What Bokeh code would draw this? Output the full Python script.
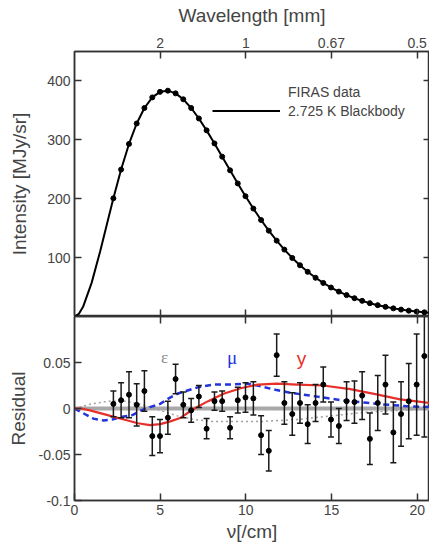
from bokeh.plotting import figure
from bokeh.models import (Range1d, LinearAxis, FixedTicker, ColumnDataSource,
                          Legend, LegendItem, Label, Span)
from bokeh.layouts import column
from bokeh.embed import file_html
from bokeh.resources import INLINE

# ---------------- data ----------------
freq = [2.27, 2.72, 3.18, 3.63, 4.08, 4.54, 4.99, 5.45, 5.90, 6.35, 6.81, 7.26,
        7.71, 8.17, 8.62, 9.08, 9.53, 9.98, 10.44, 10.89, 11.34, 11.80, 12.25,
        12.71, 13.16, 13.61, 14.07, 14.52, 14.97, 15.43, 15.88, 16.34, 16.79,
        17.24, 17.70, 18.15, 18.61, 19.06, 19.51, 19.97, 20.42, 20.87, 21.33]
intensity = [200.72, 249.51, 293.02, 327.77, 354.08, 372.08, 381.49, 383.48,
             378.90, 368.83, 354.06, 336.28, 316.08, 293.92, 271.43, 248.24,
             225.94, 204.33, 183.26, 163.83, 145.75, 128.84, 113.57, 99.45,
             87.04, 75.88, 65.77, 57.01, 49.22, 42.27, 36.35, 31.06, 26.58,
             22.64, 19.26, 16.39, 13.81, 11.72, 9.92, 8.36, 7.09, 5.80, 4.52]
residual = [0.005, 0.009, 0.015, 0.004, 0.019, -0.030, -0.030, -0.010, 0.032,
            0.004, -0.002, 0.013, -0.022, 0.008, 0.008, -0.021, 0.009, 0.012,
            0.011, -0.029, -0.046, 0.058, 0.006, -0.006, 0.006, -0.017, 0.006,
            0.026, -0.012, -0.019, 0.008, 0.007, 0.014, -0.033, 0.006, 0.026,
            -0.026, -0.006, 0.008, 0.026, 0.057, -0.116, -0.432]
uncert = [0.014, 0.019, 0.025, 0.023, 0.022, 0.021, 0.018, 0.018, 0.016, 0.014,
          0.013, 0.012, 0.011, 0.010, 0.011, 0.012, 0.014, 0.016, 0.018, 0.021,
          0.022, 0.023, 0.023, 0.023, 0.022, 0.021, 0.020, 0.019, 0.019, 0.019,
          0.021, 0.023, 0.026, 0.028, 0.030, 0.032, 0.033, 0.035, 0.041, 0.055,
          0.088, 0.155, 0.282]

# blackbody curve: low-frequency part + through the data frequencies
bb_nu = [0.0, 0.25, 0.5, 1.0, 1.5, 2.0] + freq
bb_I = [0.0, 4.4, 16.4, 57.1, 110.9, 169.4] + intensity

# distortion shapes in the residual panel
eps_nu = [0, 1, 2, 3, 4, 5, 6, 7, 8, 9, 10, 11, 12, 13, 14, 15, 16, 17, 18, 19, 20, 21]
eps_res = [0.0, 0.005, 0.008, 0.008, 0.004, -0.002, -0.008, -0.012, -0.014, -0.014,
           -0.014, -0.014, -0.013, -0.012, -0.010, -0.008, -0.006, -0.004, -0.003,
           -0.002, -0.001, 0.0]
mu_nu = [0, 0.5, 1.1, 1.7, 2.2, 2.8, 3.4, 3.9, 4.4, 5.0, 5.5, 6.0, 6.5, 7.2, 8.1,
         9.1, 10.1, 10.9, 11.8, 12.6, 13.4, 14.5, 15.7, 16.9, 18.0, 19.4, 20.7]
mu_res = [0.0, -0.005, -0.011, -0.013, -0.012, -0.009, -0.007, -0.002, 0.0015,
          0.005, 0.011, 0.016, 0.019, 0.023, 0.026, 0.026, 0.027, 0.024, 0.020,
          0.017, 0.015, 0.012, 0.0087, 0.0065, 0.0045, 0.0025, 0.0015]
y_nu = [0, 0.4, 0.9, 2.1, 3.1, 3.7, 4.4, 5.0, 5.6, 6.2, 7.0, 7.8, 8.7, 9.7, 10.7,
        11.8, 13.0, 14.5, 16.1, 17.7, 19.0, 20.7]
y_res = [0.0, 0.0, -0.002, -0.008, -0.013, -0.016, -0.018, -0.017, -0.014, -0.010,
         0.0, 0.008, 0.016, 0.022, 0.026, 0.027, 0.026, 0.025, 0.021, 0.015, 0.010,
         0.006]

nu_ticks = [0, 5, 10, 15, 20]
wl_ticks = {5: "2", 10: "1", 15: "0.67", 20: "0.5"}
I_ticks = [100, 200, 300, 400]
res_ticks = {-0.1: "-0.1", -0.05: "-0.05", 0: "0", 0.05: "0.05"}

# ---------------- styling ----------------
FONT = "Liberation Sans"
AX = "#333333"
TXT = "#444444"
TICK_FS = "14px"
LAB_FS = "19px"


def style_axis(ax, labels=True, tick_in=7):
    ax.axis_line_color = AX
    ax.axis_line_width = 1.5
    ax.major_tick_line_color = AX
    ax.major_tick_line_width = 1.5
    ax.major_tick_in = tick_in
    ax.major_tick_out = 0
    ax.minor_tick_line_color = None
    ax.major_label_text_font = FONT
    ax.axis_label_text_font = FONT
    ax.axis_label_text_color = TXT
    ax.axis_label_text_font_size = LAB_FS
    ax.axis_label_text_font_style = "normal"
    if labels:
        ax.major_label_text_color = TXT
        ax.major_label_text_font_size = TICK_FS
        ax.major_label_standoff = 4
    else:
        ax.major_label_text_color = None
        ax.major_label_text_font_size = "0px"
        ax.major_label_standoff = 0
    return ax


x_rng = Range1d(0, 20.72)

# ---------------- top panel ----------------
p1 = figure(width=429, height=316, x_range=x_rng, y_range=Range1d(0, 450),
            output_backend="svg", toolbar_location=None,
            x_axis_location=None, y_axis_location=None,
            min_border_left=74, min_border_right=0, min_border_top=51,
            min_border_bottom=0)
p1.grid.visible = False
p1.outline_line_color = AX
p1.outline_line_width = 1.5

ax = LinearAxis(ticker=FixedTicker(ticks=I_ticks), axis_label="Intensity [MJy/sr]",
                axis_label_standoff=14)
style_axis(ax)
p1.add_layout(ax, "left")

ax = LinearAxis(ticker=FixedTicker(ticks=I_ticks))
style_axis(ax, labels=False, tick_in=6)
p1.add_layout(ax, "right")

ax = LinearAxis(ticker=FixedTicker(ticks=list(wl_ticks.keys())),
                major_label_overrides=wl_ticks, axis_label="Wavelength [mm]",
                axis_label_standoff=9)
style_axis(ax)
p1.add_layout(ax, "above")

ax = LinearAxis(ticker=FixedTicker(ticks=nu_ticks[1:]))
style_axis(ax, labels=False)
p1.add_layout(ax, "below")

bb = p1.line(bb_nu, bb_I, line_color="black", line_width=2)
p1.scatter(freq, intensity, size=5, marker="circle", color="black")

legend = Legend(items=[LegendItem(label="FIRAS data", renderers=[]),
                       LegendItem(label="2.725 K Blackbody", renderers=[bb])],
                location=(138, 196), glyph_width=68, glyph_height=19,
                label_height=19, label_standoff=8, spacing=0, padding=0,
                margin=0, border_line_alpha=0, background_fill_alpha=0,
                label_text_font=FONT, label_text_font_size="14px",
                label_text_color=TXT)
p1.add_layout(legend)

# ---------------- bottom panel ----------------
p2 = figure(width=429, height=230, x_range=x_rng, y_range=Range1d(-0.1, 0.1),
            output_backend="svg", toolbar_location=None,
            x_axis_location=None, y_axis_location=None,
            min_border_left=74, min_border_right=0, min_border_top=0,
            min_border_bottom=46)
p2.grid.visible = False
p2.outline_line_color = AX
p2.outline_line_width = 1.5

ax = LinearAxis(ticker=FixedTicker(ticks=list(res_ticks.keys())),
                major_label_overrides=res_ticks, axis_label="Residual",
                axis_label_standoff=7)
style_axis(ax)
p2.add_layout(ax, "left")

ax = LinearAxis(ticker=FixedTicker(ticks=nu_ticks), axis_label="\u03bd[/cm]",
                axis_label_standoff=3)
style_axis(ax)
p2.add_layout(ax, "below")

ax = LinearAxis(ticker=FixedTicker(ticks=nu_ticks[1:]))
style_axis(ax, labels=False)
p2.add_layout(ax, "above")

p2.add_layout(Span(location=0, dimension="width", line_color="#a8a8a8",
                   line_width=4, level="underlay"))

p2.line(eps_nu, eps_res, line_color="#a0a0a0", line_width=1.5, line_dash="2 3")
p2.line(mu_nu, mu_res, line_color="#2233dd", line_width=2.5, line_dash="6 4")
p2.line(y_nu, y_res, line_color="#e8302a", line_width=2.2)

lo = [r - e for r, e in zip(residual, uncert)]
hi = [r + e for r, e in zip(residual, uncert)]
src = ColumnDataSource(dict(x=freq, y=residual, lo=lo, hi=hi))
p2.segment(x0="x", y0="lo", x1="x", y1="hi", source=src, line_color="#1a1a1a",
           line_width=1.5)
p2.scatter(x="x", y="lo", source=src, marker="dash", size=6, line_color="#1a1a1a",
           line_width=1.5)
p2.scatter(x="x", y="hi", source=src, marker="dash", size=6, line_color="#1a1a1a",
           line_width=1.5)
p2.scatter(x="x", y="y", source=src, marker="circle", size=5, color="black")

p2.add_layout(Label(x=5.25, y=0.055, text="\u03b5", text_color="#888888",
                    text_font="Liberation Serif", text_font_size="17px",
                    text_align="center", text_baseline="middle"))
p2.add_layout(Label(x=9.2, y=0.055, text="\u03bc", text_color="#2233dd",
                    text_font="Liberation Serif", text_font_size="19px",
                    text_align="center", text_baseline="middle"))
p2.add_layout(Label(x=13.25, y=0.054, text="y", text_color="#e8302a",
                    text_font=FONT, text_font_size="19px",
                    text_align="center", text_baseline="middle"))

layout = column(p1, p2, spacing=0)
open("out.html", "w").write(file_html(layout, INLINE))
